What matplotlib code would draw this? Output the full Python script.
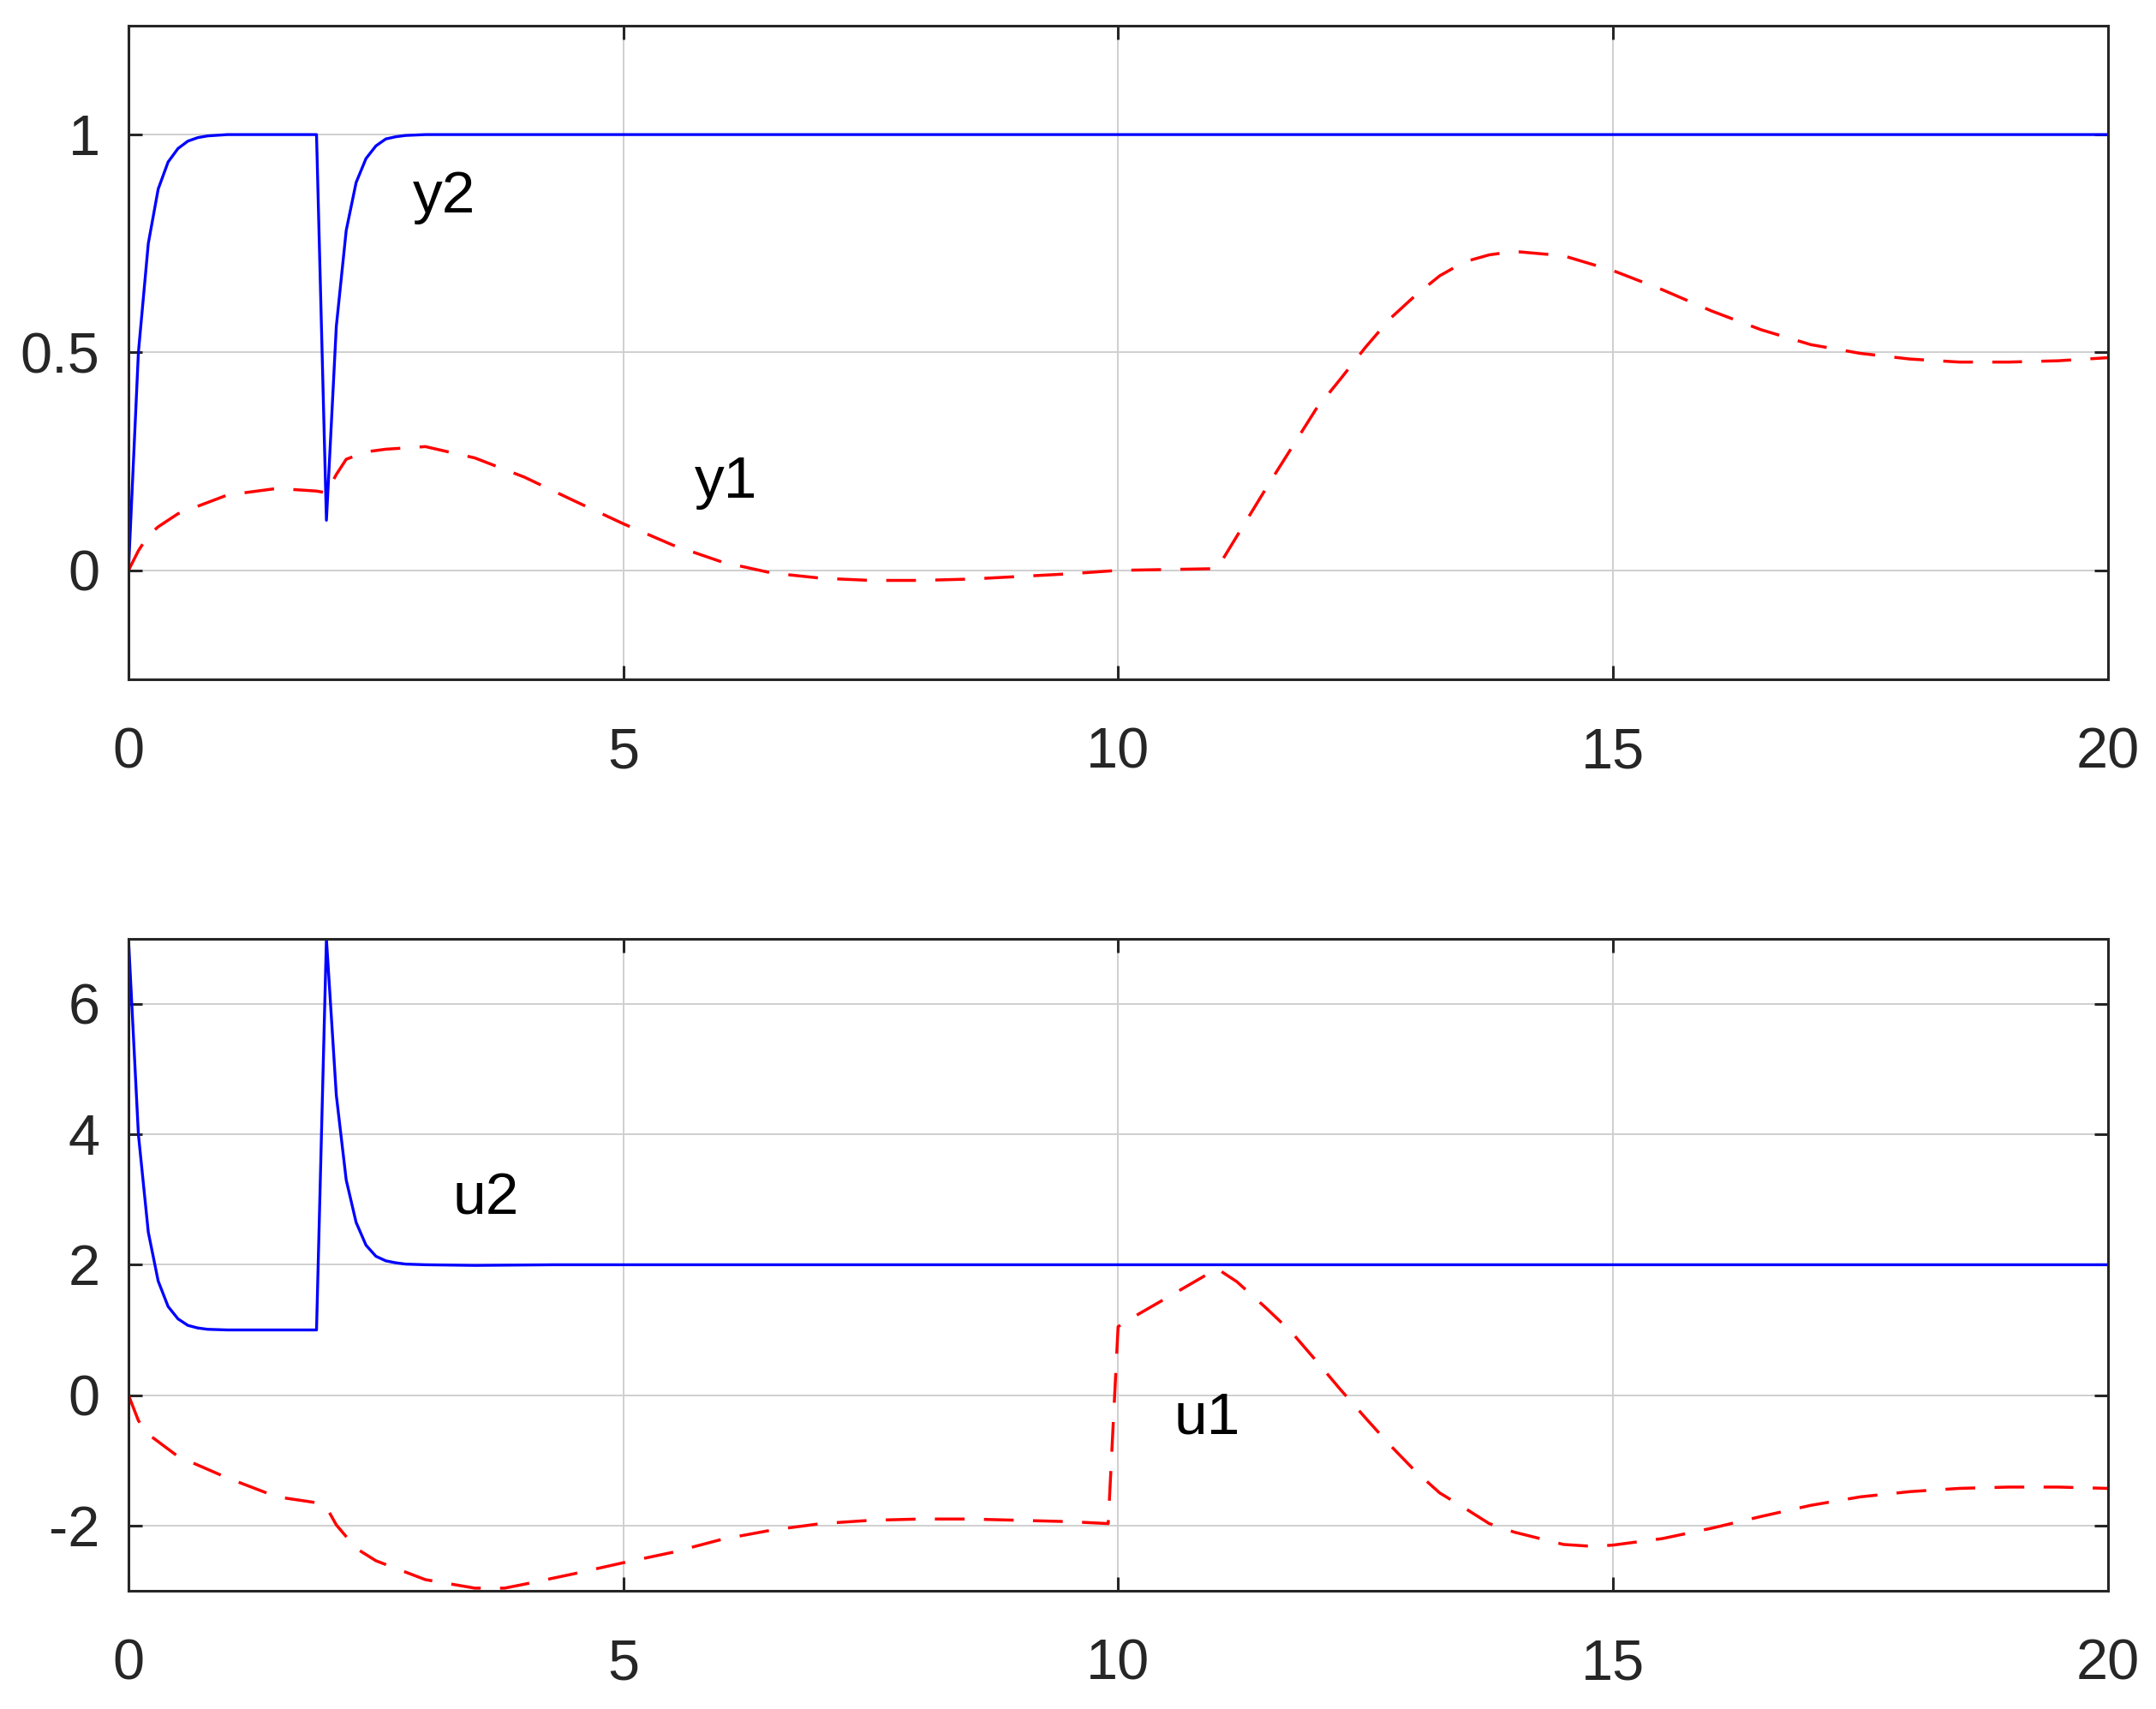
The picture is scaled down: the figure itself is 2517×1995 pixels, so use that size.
import matplotlib
matplotlib.use("Agg")
import matplotlib.pyplot as plt

plt.rcParams['font.family'] = ['Liberation Sans', 'DejaVu Sans']
plt.rcParams['axes.unicode_minus'] = False   # MATLAB-style hyphen minus

# ---- data ----
# outputs (top panel)
t_y1 = [0, 0.1, 0.2, 0.3, 0.5, 1.0, 1.5, 1.9, 2.0, 2.1, 2.2, 2.4, 2.6, 3.0, 3.5, 4.0, 4.5,
        5.0, 5.5, 6.0, 6.5, 7.0, 7.5, 8.0, 8.5, 9.0, 9.5, 10.0, 10.5, 11.0, 11.5, 11.75,
        12.0, 12.25, 12.5, 12.75, 13.0, 13.25, 13.5, 13.75, 14.0, 14.5, 15.0, 15.5, 16.0,
        16.5, 17.0, 17.5, 18.0, 18.5, 19.0, 19.5, 20.0]
y1 = [0, 0.045, 0.08, 0.1, 0.13, 0.173, 0.188, 0.182, 0.178, 0.22, 0.255, 0.272, 0.278,
      0.284, 0.258, 0.214, 0.16, 0.107, 0.058, 0.019, -0.006, -0.018, -0.023, -0.023,
      -0.02, -0.014, -0.008, 0.0, 0.002, 0.004, 0.19, 0.28, 0.37, 0.44, 0.512, 0.578,
      0.63, 0.676, 0.708, 0.724, 0.732, 0.722, 0.688, 0.644, 0.595, 0.552, 0.518, 0.498,
      0.485, 0.478, 0.478, 0.481, 0.488]

t_y2 = [0, 0.1, 0.2, 0.3, 0.4, 0.5, 0.6, 0.7, 0.8, 1.0, 1.9, 2.0, 2.1, 2.2, 2.3, 2.4,
        2.5, 2.6, 2.7, 2.8, 3.0, 20.0]
y2 = [0, 0.50, 0.75, 0.875, 0.937, 0.968, 0.985, 0.993, 0.997, 1.0, 1.0, 0.115, 0.56,
      0.78, 0.89, 0.945, 0.974, 0.99, 0.995, 0.998, 1.0, 1.0]

# inputs (bottom panel)
t_u1 = [0, 0.1, 0.2, 0.5, 1.0, 1.5, 1.9, 2.0, 2.1, 2.3, 2.5, 3.0, 3.5, 3.8, 4.0, 4.5,
        5.0, 5.5, 6.0, 6.5, 7.0, 7.5, 8.0, 8.5, 9.0, 9.5, 9.9, 10.0, 10.1, 10.5, 11.0,
        11.2, 11.5, 11.75, 12.0, 12.25, 12.5, 12.75, 13.0, 13.25, 13.5, 13.75, 14.0,
        14.5, 14.8, 15.0, 15.5, 16.0, 16.5, 17.0, 17.5, 18.0, 18.5, 19.0, 19.5, 20.0]
u1 = [0, -0.39, -0.6, -0.94, -1.27, -1.56, -1.65, -1.72, -1.99, -2.35, -2.54, -2.83,
      -2.96, -2.96, -2.9, -2.74, -2.57, -2.41, -2.21, -2.07, -1.97, -1.92, -1.9, -1.9,
      -1.92, -1.94, -1.97, 1.05, 1.15, 1.5, 1.94, 1.74, 1.33, 0.97, 0.53, 0.08, -0.35,
      -0.77, -1.16, -1.5, -1.73, -1.97, -2.1, -2.29, -2.32, -2.3, -2.2, -2.04, -1.86,
      -1.69, -1.56, -1.48, -1.43, -1.41, -1.41, -1.43]

t_u2 = [0, 0.1, 0.2, 0.3, 0.4, 0.5, 0.6, 0.7, 0.8, 1.0, 1.9, 2.0, 2.1, 2.2, 2.3, 2.4,
        2.5, 2.6, 2.7, 2.8, 3.0, 3.5, 4.3, 20.0]
u2 = [7.0, 4.0, 2.5, 1.75, 1.36, 1.17, 1.07, 1.03, 1.01, 1.0, 1.0, 7.0, 4.6, 3.3, 2.65,
      2.3, 2.13, 2.06, 2.03, 2.01, 2.0, 1.99, 2.0, 2.0]

xticks = [0, 5, 10, 15, 20]
yticks_top = [0, 0.5, 1]
yticks_bot = [-2, 0, 2, 4, 6]

# ---- figure ----
fig = plt.figure(figsize=(12.585, 9.975), dpi=200)
ax1 = fig.add_axes([0.0596, 0.6025, 0.918, 0.3825])
ax2 = fig.add_axes([0.0596, 0.0692, 0.918, 0.3815])

dash = (0, (10, 6.5))

ax1.plot(t_y1, y1, color='red', lw=1.25, linestyle=dash)
ax1.plot(t_y2, y2, color='blue', lw=1.2)
ax1.text(2.87, 0.821, 'y2', fontsize=25)
ax1.text(5.72, 0.167, 'y1', fontsize=25)
ax1.set_ylim(-0.25, 1.25)
ax1.set_yticks(yticks_top)
ax1.set_yticklabels(['0', '0.5', '1'])

ax2.plot(t_u1, u1, color='red', lw=1.25, linestyle=dash)
ax2.plot(t_u2, u2, color='blue', lw=1.2)
ax2.text(3.28, 2.78, 'u2', fontsize=25)
ax2.text(10.56, -0.59, 'u1', fontsize=25)
ax2.set_ylim(-3, 7)
ax2.set_yticks(yticks_bot)

for ax in (ax1, ax2):
    ax.set_xlim(0, 20)
    ax.set_xticks(xticks)
    ax.grid(True, color='#cfcfcf', lw=0.7)
    ax.set_axisbelow(True)
    ax.tick_params(direction='in', length=5.8, width=1.1, colors='#262626',
                   labelsize=24, top=True, right=True)
    ax.tick_params(axis='x', pad=20)
    ax.tick_params(axis='y', pad=12)
    for sp in ax.spines.values():
        sp.set_linewidth(1.1)
        sp.set_color('#262626')

fig.savefig('out.png', dpi=200)
